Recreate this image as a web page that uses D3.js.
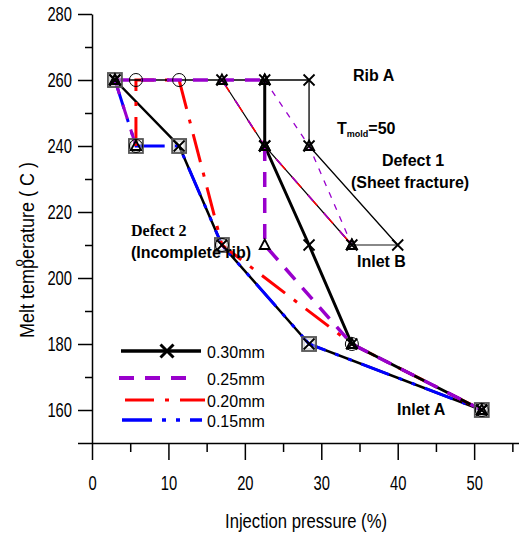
<!DOCTYPE html>
<html>
<head>
<meta charset="utf-8">
<script src="https://cdn.jsdelivr.net/npm/d3@7"></script>
<style>
  body { margin: 0; background: #fff; }
  #chart { width: 519px; height: 536px; }
</style>
</head>
<body>
<div id="chart"></div>
<script>
// injection pressure (%) / melt temperature (C) for each boundary line
const press30a = [22.6, 22.6, 28.4, 34, 51];
const temp30a  = [260, 240, 210, 180, 160];
const press30b = [3, 11.4, 17, 28.4, 51];
const temp30b  = [260, 240, 210, 180, 160];
const press30c = [3, 28.4, 28.4, 40];
const temp30c  = [260, 260, 240, 210];
const press30d = [40, 34];
const temp30d  = [210, 210];

const press25top = [3, 22.6];
const temp25top  = [260, 260];
const press25low = [22.6, 22.6, 34, 51];
const temp25low  = [240, 210, 180, 160];
const press25b = [3, 5.75];
const temp25b  = [260, 240];
const press25c = [22.6, 28.4, 34];
const temp25c  = [260, 240, 210];

const press20 = [5.75, 5.75, 11.4, 17, 34, 51];
const temp20  = [240, 260, 260, 210, 180, 160];

const press15 = [3, 5.75, 11.4, 17, 28.4, 51];
const temp15  = [260, 240, 240, 210, 180, 160];

// thin line shared by the thinner sheets (defect 1 side)
const pressUp = [17, 22.6, 34];
const tempUp  = [260, 240, 210];

const xMajor = [0, 10, 20, 30, 40, 50];
const xMinor = [5, 15, 25, 35, 45, 55];
const yMajor = [150, 160, 180, 200, 220, 240, 260, 280];
const yMinor = [170, 190, 210, 230, 250, 270];

const legendLabels = ["0.30mm", "0.25mm", "0.20mm", "0.15mm"];

const W = 519, H = 536;
const svg = d3.select("#chart").append("svg")
    .attr("width", W).attr("height", H);

const x = d3.scaleLinear().domain([0, 56]).range([92, 520]);
const y = d3.scaleLinear().domain([150, 280]).range([443, 14]);

const tickFont = "'Liberation Sans', Arial, sans-serif";

// x axis
svg.append("g").attr("transform", "translate(0,443)")
    .call(d3.axisBottom(x).tickValues(xMajor).tickSize(17).tickSizeOuter(0).tickPadding(16));
svg.append("g").attr("transform", "translate(0,443)")
    .call(d3.axisBottom(x).tickValues(xMinor).tickSize(9).tickSizeOuter(0).tickFormat(""))
    .select(".domain").remove();
// y axis
svg.append("g").attr("transform", "translate(92,0)")
    .call(d3.axisLeft(y).tickValues(yMajor).tickSize(14).tickSizeOuter(0).tickPadding(6)
        .tickFormat(d => d === 150 ? "" : d));
svg.append("g").attr("transform", "translate(92,0)")
    .call(d3.axisLeft(y).tickValues(yMinor).tickSize(7).tickSizeOuter(0).tickFormat(""))
    .select(".domain").remove();

svg.selectAll(".domain, .tick line").attr("stroke", "#000").attr("stroke-width", 1.5);
// condensed look of the original tick font
svg.selectAll(".tick text")
    .attr("font-family", tickFont).attr("font-size", 20).attr("fill", "#000")
    .each(function() {
        const t = d3.select(this).text();
        if (t) d3.select(this).attr("textLength", t.length * 8.2).attr("lengthAdjust", "spacingAndGlyphs");
    });

svg.append("text")
    .attr("x", 306).attr("y", 528)
    .attr("text-anchor", "middle")
    .attr("font-family", tickFont).attr("font-size", 21)
    .attr("textLength", 162).attr("lengthAdjust", "spacingAndGlyphs")
    .text("Injection pressure (%)");

svg.append("text")
    .attr("transform", "translate(34,250) rotate(-90)")
    .attr("text-anchor", "middle")
    .attr("font-family", tickFont).attr("font-size", 21)
    .attr("textLength", 176).attr("lengthAdjust", "spacingAndGlyphs")
    .text("Melt temperature (  C )");
svg.append("text")
    .attr("transform", "translate(23,263) rotate(-90)")
    .attr("text-anchor", "middle")
    .attr("font-family", tickFont).attr("font-size", 13)
    .text("o");

// lines
const line = d3.line().x(d => x(d[0])).y(d => y(d[1]));
function drawLine(px, ty, color, width, dash) {
    svg.append("path")
        .datum(d3.zip(px, ty))
        .attr("d", line)
        .attr("fill", "none")
        .attr("stroke", color)
        .attr("stroke-width", width)
        .attr("stroke-dasharray", dash || null);
}

const purple = "#9900cc", red = "#ff0000", blue = "#0000ff";
const dashPurple = "15,11", dashRed = "29,11,4,11", dashBlue = "30,10,4,10,4,10";

drawLine(press30b, temp30b, "#000", 2.5);
drawLine(press15, temp15, blue, 3, dashBlue);
drawLine(press20, temp20, red, 3, dashRed);
drawLine(press30c, temp30c, "#000", 1.3);
drawLine(press30d, temp30d, "#888", 2);
drawLine(press30a, temp30a, "#000", 3);
drawLine(press25top, temp25top, purple, 3.5, dashPurple);
drawLine(press25low, temp25low, purple, 3.5, dashPurple);
drawLine(press25b, temp25b, purple, 3, dashPurple);
drawLine(press25c, temp25c, purple, 1.3, "6,7");
drawLine(pressUp, tempUp, "#000", 1.2);
drawLine(pressUp, tempUp, red, 1.6, "14,10");
drawLine(pressUp, tempUp, purple, 1.6, "8,16");

// markers
const mk = svg.append("g");
function squares(px, ty) {
    d3.zip(px, ty).forEach(d => {
        mk.append("rect").attr("x", x(d[0]) - 7).attr("y", y(d[1]) - 7)
            .attr("width", 14).attr("height", 14)
            .attr("fill", "none").attr("stroke", "#555").attr("stroke-width", 1.8);
        mk.append("rect").attr("x", x(d[0]) - 5).attr("y", y(d[1]) - 5)
            .attr("width", 10).attr("height", 10)
            .attr("fill", "none").attr("stroke", "#bbb").attr("stroke-width", 1);
    });
}
function circles(px, ty) {
    d3.zip(px, ty).forEach(d => {
        mk.append("circle").attr("cx", x(d[0])).attr("cy", y(d[1])).attr("r", 6.5)
            .attr("fill", "none").attr("stroke", "#000").attr("stroke-width", 1);
    });
}
function triangles(px, ty) {
    d3.zip(px, ty).forEach(d => {
        const cx = x(d[0]), cy = y(d[1]);
        mk.append("path")
            .attr("d", `M${cx},${cy - 5.5}L${cx + 5},${cy + 4}L${cx - 5},${cy + 4}Z`)
            .attr("fill", "none").attr("stroke", "#000").attr("stroke-width", 1.8);
    });
}
function crosses(px, ty) {
    d3.zip(px, ty).forEach(d => {
        const cx = x(d[0]), cy = y(d[1]), s = 5.5;
        mk.append("path")
            .attr("d", `M${cx - s},${cy - s}L${cx + s},${cy + s}M${cx - s},${cy + s}L${cx + s},${cy - s}`)
            .attr("fill", "none").attr("stroke", "#000").attr("stroke-width", 1.8);
    });
}

squares(press15, temp15);
circles(press20, temp20);
triangles(press25top, temp25top);
triangles(press25low, temp25low);
triangles(press25b, temp25b);
triangles(press25c, temp25c);
triangles(pressUp, tempUp);
crosses(press30a, temp30a);
crosses(press30b, temp30b);
crosses(press30c, temp30c);
crosses(pressUp, tempUp);

// legend
const legendStyles = [
    { color: "#000", width: 3.5, dash: null, x0: 121, x1: 201, y: 351 },
    { color: purple, width: 4, dash: dashPurple, x0: 119, x1: 189, y: 378 },
    { color: red, width: 3, dash: dashRed, x0: 125, x1: 205, y: 400 },
    { color: blue, width: 3.5, dash: dashBlue, x0: 122, x1: 202, y: 420 }
];
legendLabels.forEach((lab, i) => {
    const s = legendStyles[i];
    svg.append("line")
        .attr("x1", s.x0).attr("x2", s.x1).attr("y1", s.y).attr("y2", s.y)
        .attr("stroke", s.color).attr("stroke-width", s.width)
        .attr("stroke-dasharray", s.dash);
    svg.append("text")
        .attr("x", 207).attr("y", s.y + 7)
        .attr("font-family", "'Liberation Sans', Arial, sans-serif")
        .attr("font-size", 16)
        .text(lab);
});
{
    const cx = 167, cy = 351, s = 6.5;
    svg.append("path")
        .attr("d", `M${cx - s},${cy - s}L${cx + s},${cy + s}M${cx - s},${cy + s}L${cx + s},${cy - s}`)
        .attr("stroke", "#000").attr("stroke-width", 3);
}

// annotations
const bold = "'Liberation Sans', Arial, sans-serif";
function note(tx, tyy, str, anchor, family) {
    return svg.append("text")
        .attr("x", tx).attr("y", tyy)
        .attr("text-anchor", anchor || "start")
        .attr("font-family", family || bold)
        .attr("font-weight", "bold")
        .attr("font-size", 16)
        .text(str);
}
note(353, 81, "Rib A");
const tm = note(337, 134, "T");
tm.append("tspan").attr("font-size", 9).attr("dy", 3).text("mold");
tm.append("tspan").attr("dy", -3).text("=50");
note(413, 166, "Defect 1", "middle");
note(410, 188, "(Sheet fracture)", "middle");
note(357, 267, "Inlet B");
note(131, 236, "Defect 2", "start", "'Liberation Serif', 'Times New Roman', serif");
note(131, 258, "(Incomplete rib)");
note(397, 415, "Inlet A");
</script>
</body>
</html>
